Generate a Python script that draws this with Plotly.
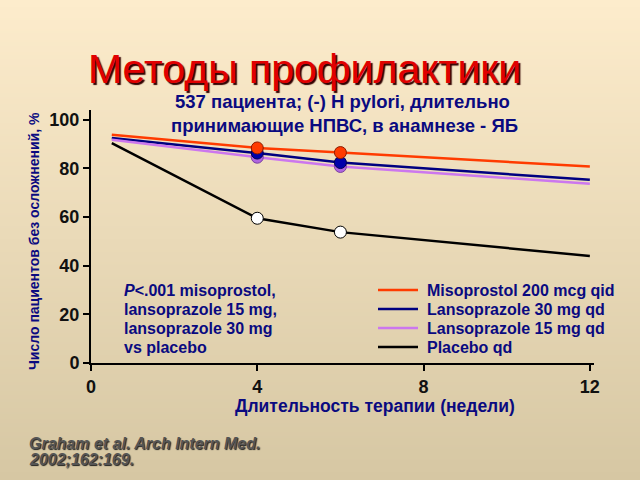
import plotly.graph_objects as go
import zlib, struct, base64

# ---- data ----
weeks = [0.5, 4, 6, 12]
marker_weeks = [4, 6]
misoprostol = [93.8, 88.4, 86.5, 80.8]
lanso30 = [92.5, 86.3, 82.4, 75.3]
lanso15 = [91.8, 84.6, 80.8, 73.7]
placebo = [90.4, 59.5, 53.8, 44.0]
series_names = ["Misoprostol 200 mcg qid", "Lansoprazole 30 mg qd",
                "Lansoprazole 15 mg qd", "Placebo qd"]
x_ticks = [0, 4, 8, 12]
y_ticks = [0, 20, 40, 60, 80, 100]
note_lines = ["<i>P</i><.001 misoprostol,", "lansoprazole 15 mg,",
              "lansoprazole 30 mg", "vs placebo"]
cite_lines = ["<i>Graham et al. Arch Intern Med.</i>", "<i>2002;162:169.</i>"]

# ---- background gradient image ----
def gradient_png(top, bottom, h=256):
    rows = b""
    for i in range(h):
        t = i / (h - 1)
        c = bytes(int(round(top[k] + (bottom[k] - top[k]) * t)) for k in range(3))
        rows += b"\x00" + c
    def chunk(tag, data):
        return struct.pack(">I", len(data)) + tag + data + struct.pack(">I", zlib.crc32(tag + data) & 0xffffffff)
    png = b"\x89PNG\r\n\x1a\n" + chunk(b"IHDR", struct.pack(">IIBBBBB", 1, h, 8, 2, 0, 0, 0))
    png += chunk(b"IDAT", zlib.compress(rows)) + chunk(b"IEND", b"")
    return "data:image/png;base64," + base64.b64encode(png).decode()

bg = gradient_png((253, 236, 204), (214, 199, 163))

colors = ["#ff3b00", "#000080", "#cc77ee", "#000000"]
edge = ["#8b1a00", "#000050", "#7a3fa0", "#000000"]
fill = ["#ff3b00", "#0000aa", "#b066e0", "#ffffff"]
data = [misoprostol, lanso30, lanso15, placebo]

fig = go.Figure()
for name, ys, c in zip(series_names, data, colors):
    fig.add_trace(go.Scatter(x=weeks, y=ys, mode="lines", name=name,
                             line=dict(color=c, width=2.5)))
for i in [3, 2, 1, 0]:
    ys = data[i]
    my = [ys[weeks.index(w)] for w in marker_weeks]
    fig.add_trace(go.Scatter(x=marker_weeks, y=my, mode="markers", showlegend=False,
                             marker=dict(size=12, color=fill[i],
                                         line=dict(color=edge[i], width=1))))

navy = "#0a0a80"
fig.update_layout(
    width=640, height=480,
    margin=dict(l=91, r=46, t=110, b=117),
    paper_bgcolor="#eedfbc", plot_bgcolor="rgba(0,0,0,0)",
    font=dict(family="Liberation Sans, Arial, sans-serif"),
    images=[dict(source=bg, xref="paper", yref="paper", x=-91/503, y=1+110/253,
                 sizex=640/503, sizey=480/253, sizing="stretch", layer="below",
                 xanchor="left", yanchor="top")],
    xaxis=dict(range=[0, 12.1], tickvals=x_ticks, showgrid=False, zeroline=False,
               showline=True, linecolor="#000", linewidth=2, ticks="outside",
               ticklen=6, tickwidth=2, tickcolor="#000",
               tickfont=dict(size=18, color="#111", weight="bold")),
    yaxis=dict(range=[0, 104], tickvals=y_ticks, showgrid=False, zeroline=False,
               showline=True, linecolor="#000", linewidth=2, ticks="outside",
               ticklen=6, tickwidth=2, tickcolor="#000",
               tickfont=dict(size=18, color="#111", weight="bold")),
    showlegend=False,
)

def px(x):
    return (x - 91) / 503

def py(y):
    return 1 - (y - 110) / 253

ann = [
    dict(text="Методы профилактики", x=304, y=69, font=dict(size=41, color="#e00000",
         shadow="2px 2px 1px #300")),
    dict(text="537 пациента; (-) H pylori, длительно", x=342, y=101,
         font=dict(size=18.5, color=navy, weight="bold")),
    dict(text="принимающие НПВС, в анамнезе - ЯБ", x=344, y=125,
         font=dict(size=18.5, color=navy, weight="bold")),
    dict(text="Длительность терапии (недели)", x=375, y=406,
         font=dict(size=17.5, color=navy, weight="bold")),
    dict(text="Число пациентов без осложнений, %", x=34, y=241, textangle=-90,
         font=dict(size=14, color=navy, weight="bold")),
]
for k, t in enumerate(note_lines):
    ann.append(dict(text=t, x=122, y=290 + 19 * k, xanchor="left",
                    font=dict(size=16, color=navy, weight="bold")))
for k, t in enumerate(cite_lines):
    ann.append(dict(text=t, x=27, y=443 + 16 * k, xanchor="left",
                    font=dict(size=16, color="#555555", weight="bold",
                              shadow="1px 1px 1px #222")))

# manual legend (text + line samples)
shapes = []
for k, (name, c) in enumerate(zip(series_names, colors)):
    yy = 290 + 19 * k
    ann.append(dict(text=name, x=425, y=yy, xanchor="left",
                    font=dict(size=16, color=navy, weight="bold")))
    shapes.append(dict(type="line", xref="paper", yref="paper",
                       x0=px(378), x1=px(418), y0=py(yy), y1=py(yy),
                       line=dict(color=c, width=2.5)))

annotations = []
for a in ann:
    d = dict(xref="paper", yref="paper", showarrow=False)
    d.update(a)
    d["x"] = px(a["x"])
    d["y"] = py(a["y"])
    d.setdefault("xanchor", "center")
    d["yanchor"] = "middle"
    annotations.append(d)
fig.update_layout(annotations=annotations, shapes=shapes)

fig.write_html("out.html")
